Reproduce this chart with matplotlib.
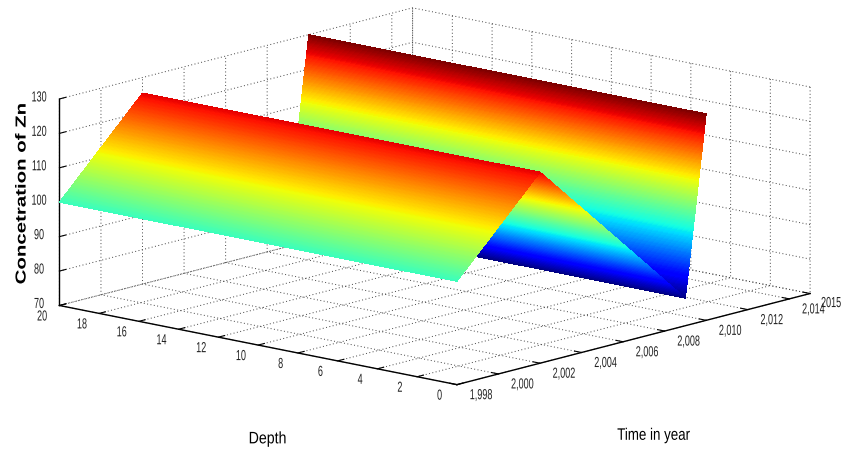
import numpy as np
import matplotlib
matplotlib.use("Agg")
import matplotlib.pyplot as plt
from matplotlib.patheffects import AbstractPathEffect
from matplotlib.transforms import Affine2D

# Surface knots: concentration depends on year only
knot_years = [1998, 2002, 2009, 2010]
knot_conc = [100, 125.5, 78, 130]
depth_ends = [0, 20]

time_ticks = [1998, 2000, 2002, 2004, 2006, 2008, 2010, 2012, 2014, 2015]
time_labels = ["1,998", "2,000", "2,002", "2,004", "2,006", "2,008", "2,010", "2,012", "2,014", "2015"]
depth_ticks = [0, 2, 4, 6, 8, 10, 12, 14, 16, 18, 20]
conc_ticks = [70, 80, 90, 100, 110, 120, 130]


class Fit(AbstractPathEffect):
    """Stretch text along its baseline about its centre and nudge it (pixels)."""

    def __init__(self, sx=1.0, dx=0, dy=0):
        super().__init__()
        self.sx, self.dx, self.dy = sx, dx, dy

    def draw_path(self, renderer, gc, tpath, affine, rgbFace=None):
        e = tpath.get_extents()
        c = (e.x0 + e.x1) / 2
        tr = (Affine2D().translate(-c, 0).scale(self.sx, 1).translate(c, 0)
              + affine + Affine2D().translate(self.dx, self.dy))
        renderer.draw_path(gc, tpath, tr, rgbFace)


W, H = 842, 450
S = 759
fig = plt.figure(figsize=(W / 100, H / 100), dpi=100, facecolor="white")
ax = fig.add_axes([45 / W, -136 / H, S / W, S / H], projection="3d")
ax.set_proj_type("ortho")
ax.view_init(elev=13.1, azim=221.3)
ax.set_box_aspect((535, 529, 212))

# Subdivide each straight segment only so the flat facets can show the colour ramp
shade_t = np.concatenate([np.linspace(knot_years[i], knot_years[i + 1], 160)
                          for i in range(len(knot_years) - 1)])
shade_z = np.interp(shade_t, knot_years, knot_conc)
T, D = np.meshgrid(shade_t, depth_ends)
Z = np.vstack([shade_z, shade_z])
ax.plot_surface(T, D, Z, cmap="jet", vmin=min(knot_conc), vmax=max(knot_conc),
                rstride=1, cstride=1, linewidth=0, antialiased=False, shade=False)

ax.set_xlim(1998, 2015)
ax.set_ylim(0, 20)
ax.set_zlim(70, 130)
ax.set_xticks(time_ticks)
ax.set_yticks(depth_ticks)
ax.set_zticks(conc_ticks)
tick_kw = dict(family="Liberation Sans", fontsize=10.5, color="#222222")
xl = ax.set_xticklabels(time_labels, **tick_kw)
yl = ax.set_yticklabels([str(v) for v in depth_ticks], **tick_kw)
zl = ax.set_zticklabels([str(v) for v in conc_ticks], **tick_kw)
for t in xl[:-1]:
    t.set_path_effects([Fit(0.62, 8, 8)])
xl[-1].set_path_effects([Fit(0.62, 5, 9)])
for t in yl:
    t.set_path_effects([Fit(0.62, -3, 8)])
for t in zl:
    t.set_path_effects([Fit(0.62, 10, 9)])

for axis in (ax.xaxis, ax.yaxis, ax.zaxis):
    axis.set_pane_color((1, 1, 1, 1))
    axis.pane.set_edgecolor("none")
    axis._axinfo["grid"].update(color="#444444", linestyle=(0, (1, 2.5)), linewidth=0.7)
    axis._axinfo["tick"].update(inward_factor=0.0, outward_factor=0.22)
    axis._axinfo["axisline"]["color"] = "black"
    axis.line.set_linewidth(1.0)
    axis.set_rotate_label(False)

ax.set_xlabel("Time in year", family="Liberation Sans", fontsize=12, rotation=0, labelpad=40,
              path_effects=[Fit(0.8, -65, -35)])
ax.set_ylabel("Depth", family="Liberation Sans", fontsize=12, rotation=0, labelpad=40,
              path_effects=[Fit(0.85, 85, -30)])
ax.set_zlabel("Concetration of Zn", family="Liberation Sans", fontsize=10.5,
              fontweight="bold", rotation=90, labelpad=-15, path_effects=[Fit(1.4, -22, 9)])

fig.savefig("out.png", dpi=100, facecolor="white")
